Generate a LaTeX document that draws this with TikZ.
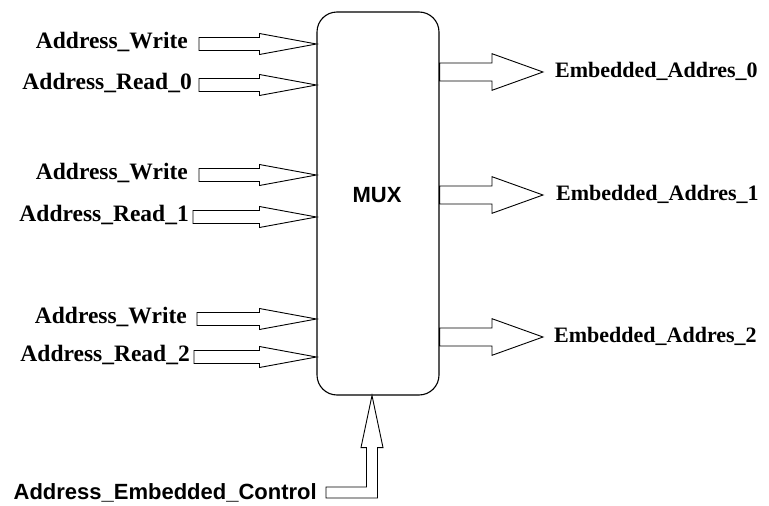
\documentclass[tikz,border=0pt]{standalone}
\usepackage{fontspec}
\setmainfont{Liberation Serif}
\newfontfamily\arialfont{Liberation Sans}
\usetikzlibrary{calc}

% Hollow block arrow pointing right: tail #1, tip #2,
% shaft half-height #3, head half-height #4, head length #5
\newcommand{\fatright}[5]{%
  \draw[fatarrow] ($(#1)+(0,-#3)$) -- ($(#2)+(-#5,-#3)$) -- ($(#2)+(-#5,-#4)$)
    -- (#2) -- ($(#2)+(-#5,#4)$) -- ($(#2)+(-#5,#3)$) -- ($(#1)+(0,#3)$) -- cycle;}

\tikzset{
  muxbox/.style={draw, line width=1.1pt, rounded corners=20pt, inner sep=0pt,
    minimum width=122pt, minimum height=383pt},
  fatarrow/.style={draw, fill=white, line width=0.9pt, line join=miter},
  seriflbl/.style={font=\bfseries\fontsize{23.5}{27}\selectfont, inner sep=0pt},
  outlbl/.style={font=\bfseries\fontsize{22}{26}\selectfont, inner sep=0pt},
  sanslbl/.style={font=\arialfont\bfseries\fontsize{22}{26}\selectfont, inner sep=0pt},
}

\begin{document}
\begin{tikzpicture}[x=1pt, y=-1pt]
\useasboundingbox[fill=white] (0,0) rectangle (769,506);

% multiplexer block
\node[muxbox] (mux) at (378,203.5) {};
\node[sanslbl] (muxtext) at (377,195) {MUX};

% address inputs on the left
\foreach \n/\tx/\y/\lx/\txt in {
    w0/199/44/188/Address\_Write,
    r0/199/85/192/Address\_Read\_0,
    w1/199/175/188/Address\_Write,
    r1/193/217/189/Address\_Read\_1,
    w2/197/319/187/Address\_Write,
    r2/194/357/190/Address\_Read\_2}{
  \coordinate (t\n) at (\tx,\y);
  \coordinate (h\n) at (mux.west |- t\n);
  \node[seriflbl, anchor=base east] (l\n) at (\lx,\y+4.5) {\txt};
  \fatright{t\n}{h\n}{6.5}{10.5}{57}
}

% embedded address outputs on the right
\foreach \n/\y/\lx in {0/72/555, 1/195/556, 2/337/554}{
  \coordinate (e\n) at (543,\y);
  \coordinate (s\n) at (mux.east |- e\n);
  \fatright{s\n}{e\n}{9}{18.3}{51}
  \node[outlbl, anchor=base west] (o\n) at (\lx,\y+5) {Embedded\_Addres\_\n};
}

% control input from below
\node[sanslbl, anchor=base east] (ctl) at (317,499) {Address\_Embedded\_Control};
\coordinate (ctail) at (326,492.5);
\coordinate (ctip) at ($(mux.south)+(-6,0)$);
\draw[fatarrow] ($(ctail)+(0,-5.5)$) -- ($(ctip |- ctail)+(-5.5,-5.5)$)
  -- ($(ctip)+(-5.5,52)$) -- ($(ctip)+(-11,52)$) -- (ctip)
  -- ($(ctip)+(11,52)$) -- ($(ctip)+(5.5,52)$)
  -- ($(ctip |- ctail)+(5.5,5.5)$) -- ($(ctail)+(0,5.5)$) -- cycle;
\end{tikzpicture}
\end{document}
